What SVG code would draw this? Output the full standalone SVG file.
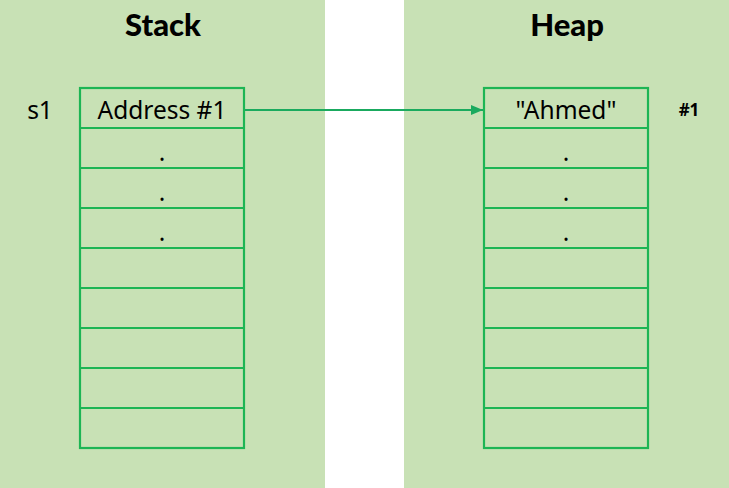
<svg xmlns="http://www.w3.org/2000/svg" width="729" height="488" viewBox="0 0 729 488">
<defs>
<style>
.panel{fill:#c8e1b5}
.cell{fill:none;stroke:#1db554;stroke-width:2.2}
.title{font-family:Lato,"Noto Sans",sans-serif;font-weight:900;font-size:31px;fill:#000;text-anchor:middle}
.t{font-family:"Noto Sans","Open Sans",sans-serif;font-size:24.5px;fill:#000;text-anchor:middle}
.b{font-family:"Noto Sans",sans-serif;font-weight:700;font-size:17px;fill:#000;text-anchor:middle}
.conn{stroke:#1aaa5e;stroke-width:1.8;fill:none}
</style>
<marker id="ah" viewBox="0 0 12 10" refX="12" refY="5" markerWidth="12" markerHeight="10" markerUnits="userSpaceOnUse" orient="auto">
<path d="M0,0 L12,5 L0,10 z" fill="#1aaa5e"/>
</marker>
</defs>
<rect width="729" height="488" fill="#fff"/>
<rect class="panel" x="0" y="0" width="325" height="488"/>
<rect class="panel" x="404" y="0" width="325" height="488"/>
<text class="title" x="163" y="36">Stack</text>
<text class="title" x="567" y="36">Heap</text>
<g id="stack">
<rect class="cell" x="80" y="88" width="164" height="360"/>
<path class="cell" d="M80,128H244M80,168H244M80,208H244M80,248H244M80,288H244M80,328H244M80,368H244M80,408H244"/>
<text class="t" x="40" y="119">s1</text>
<text class="t" x="162" y="119">Address #1</text>
<text class="t" x="162" y="161">.</text>
<text class="t" x="162" y="201">.</text>
<text class="t" x="162" y="241">.</text>
</g>
<g id="heap">
<rect class="cell" x="484" y="88" width="164" height="360"/>
<path class="cell" d="M484,128H648M484,168H648M484,208H648M484,248H648M484,288H648M484,328H648M484,368H648M484,408H648"/>
<text class="t" x="566" y="119">"Ahmed"</text>
<text class="b" x="689" y="116">#1</text>
<text class="t" x="566" y="161">.</text>
<text class="t" x="566" y="201">.</text>
<text class="t" x="566" y="241">.</text>
</g>
<g id="connectors">
<path class="conn" d="M245,110H483" marker-end="url(#ah)"/>
</g>
</svg>
